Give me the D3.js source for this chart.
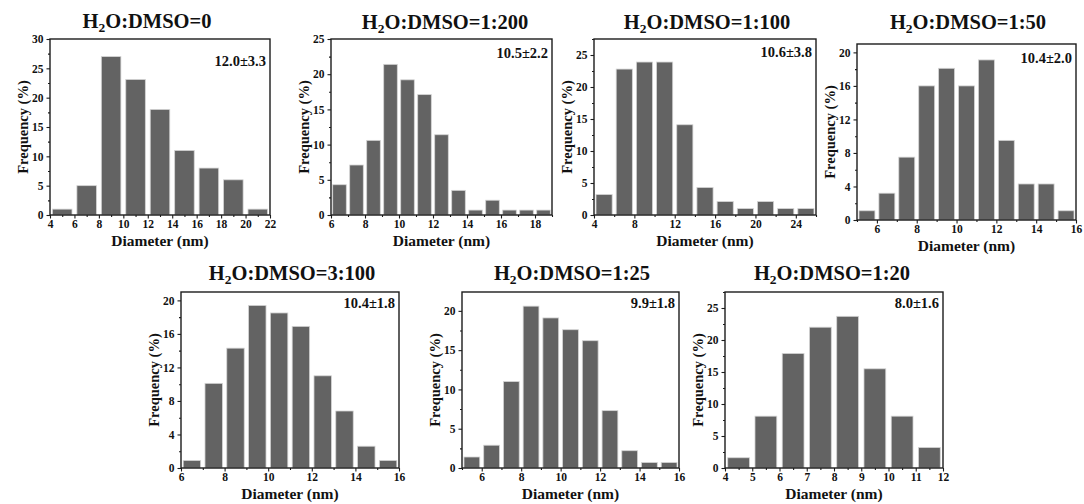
<!DOCTYPE html>
<html>
<head>
<meta charset="utf-8">
<script src="https://cdn.jsdelivr.net/npm/d3@7"></script>
<style>
  html, body { margin: 0; padding: 0; background: #fff; }
  svg text { font-family: "Liberation Serif", "Times New Roman", serif; font-weight: bold; fill: #111; }
</style>
</head>
<body>
<svg id="chart" width="1084" height="504"></svg>
<script>
// Ratio labels (the part after "H2O:DMSO=") and mean ± SD for each sample
const ratios = ["0", "1:200", "1:100", "1:50", "3:100", "1:25", "1:20"];
const stats = ["12.0±3.3", "10.5±2.2", "10.6±3.8", "10.4±2.0", "10.4±1.8", "9.9±1.8", "8.0±1.6"];

// Histogram bins: first bin start and bin width (nm)
const binStart = [4, 6, 4, 5, 6, 5, 4];
const binWidth = [2, 1, 2, 1, 1, 1, 1];

// Frequencies (%) per bin
const freqR0    = [1.0, 5.0, 27.0, 23.1, 18.0, 11.0, 8.0, 6.0, 1.0];
const freqR1200 = [4.3, 7.1, 10.6, 21.4, 19.2, 17.1, 11.4, 3.5, 0.7, 2.1, 0.7, 0.7, 0.7];
const freqR1100 = [3.2, 22.8, 23.9, 23.9, 14.1, 4.3, 2.1, 1.0, 2.1, 1.0, 1.0];
const freqR150  = [1.1, 3.2, 7.5, 16.0, 18.1, 16.0, 19.1, 9.5, 4.3, 4.3, 1.1];
const freqR3100 = [0.9, 10.1, 14.3, 19.4, 18.5, 16.9, 11.0, 6.8, 2.6, 0.9];
const freqR125  = [1.4, 2.9, 11.0, 20.6, 19.1, 17.6, 16.2, 7.3, 2.2, 0.7, 0.7];
const freqR120  = [1.6, 8.1, 17.9, 22.0, 23.7, 15.5, 8.1, 3.2];
const freqs = [freqR0, freqR1200, freqR1100, freqR150, freqR3100, freqR125, freqR120];

// Axis ranges and tick values
const xDomains = [[4, 22], [6, 19], [4, 26], [5, 16], [6, 16], [5, 16], [4, 12]];
const xTicks = [
  [4, 6, 8, 10, 12, 14, 16, 18, 20, 22],
  [6, 8, 10, 12, 14, 16, 18],
  [4, 8, 12, 16, 20, 24],
  [6, 8, 10, 12, 14, 16],
  [6, 8, 10, 12, 14, 16],
  [6, 8, 10, 12, 14, 16],
  [4, 5, 6, 7, 8, 9, 10, 11, 12]
];
const xMinorStep = [1, 1, 2, 1, 1, 1, 0.5];
const yDomains = [[0, 30], [0, 25], [0, 27.5], [0, 21], [0, 21], [0, 22.4], [0, 27.5]];
const yTicks = [
  [0, 5, 10, 15, 20, 25, 30],
  [0, 5, 10, 15, 20, 25],
  [0, 5, 10, 15, 20, 25],
  [0, 4, 8, 12, 16, 20],
  [0, 4, 8, 12, 16, 20],
  [0, 5, 10, 15, 20],
  [0, 5, 10, 15, 20, 25]
];
const yMinorStep = [2.5, 2.5, 2.5, 2, 2, 2.5, 2.5];

// Page layout: plot frame [left, top, right, bottom], title centre/baseline, stat offset
const frames = [
  [50, 39, 270, 215], [331, 39, 552, 215], [594, 39, 816, 215], [857, 44, 1076, 220],
  [181, 292, 399, 468], [462, 292, 679, 468], [725, 292, 943, 468]
];
const titlePos = [[147, 28], [445, 29], [707, 29], [968, 29], [292, 280], [572, 280], [832, 280]];
const statDrop = [27, 19, 18, 19, 16, 16, 16];

const svg = d3.select("#chart");
const BAR = "#636363", FRAME = "#1c1c1c";

function range(a, b, step) {
  const out = [];
  for (let v = a; v <= b + 1e-9; v += step) out.push(+v.toFixed(4));
  return out;
}

freqs.forEach((vals, i) => {
  const [l, t, r, b] = frames[i];
  const x = d3.scaleLinear().domain(xDomains[i]).range([l, r]);
  const y = d3.scaleLinear().domain(yDomains[i]).range([b, t]);
  const g = svg.append("g");

  // bars
  const w = binWidth[i];
  g.selectAll("rect.bar").data(vals).join("rect")
    .attr("class", "bar")
    .attr("x", (d, k) => x(binStart[i] + k * w + w * 0.1))
    .attr("width", (d, k) => x(binStart[i] + (k + 1) * w - w * 0.1) - x(binStart[i] + k * w + w * 0.1))
    .attr("y", d => y(d))
    .attr("height", d => y(0) - y(d))
    .attr("fill", BAR)
    .attr("stroke", "#d4d4d4")
    .attr("stroke-width", 0.8);

  // minor ticks
  const xMinor = range(xDomains[i][0], xDomains[i][1], xMinorStep[i]).filter(v => !xTicks[i].includes(v));
  const yMinor = range(yDomains[i][0], yDomains[i][1], yMinorStep[i]).filter(v => !yTicks[i].includes(v));

  const xAxis = g.append("g").attr("transform", `translate(0,${b})`)
    .call(d3.axisBottom(x).tickValues(xTicks[i]).tickSize(3.5).tickPadding(1.5).tickFormat(d3.format("d")));
  const xAxisMinor = g.append("g").attr("transform", `translate(0,${b})`)
    .call(d3.axisBottom(x).tickValues(xMinor).tickSize(2).tickFormat(""));
  const yAxis = g.append("g").attr("transform", `translate(${l},0)`)
    .call(d3.axisLeft(y).tickValues(yTicks[i]).tickSize(3.5).tickPadding(3).tickFormat(d3.format("d")));
  const yAxisMinor = g.append("g").attr("transform", `translate(${l},0)`)
    .call(d3.axisLeft(y).tickValues(yMinor).tickSize(2).tickFormat(""));

  [xAxis, xAxisMinor, yAxis, yAxisMinor].forEach(a => {
    a.select(".domain").remove();
    a.selectAll(".tick line").attr("stroke", FRAME).attr("stroke-width", 1.1);
    a.selectAll(".tick text").attr("font-size", 11.5).attr("fill", "#111")
      .style("font-family", '"Liberation Serif", serif').style("font-weight", "bold");
  });

  // plot frame
  g.append("rect")
    .attr("x", l).attr("y", t).attr("width", r - l).attr("height", b - t)
    .attr("fill", "none").attr("stroke", FRAME).attr("stroke-width", 1.4);

  // title: H2O:DMSO=ratio
  const title = g.append("text")
    .attr("x", titlePos[i][0]).attr("y", titlePos[i][1])
    .attr("text-anchor", "middle").attr("font-size", 20.5);
  title.append("tspan").text("H");
  title.append("tspan").text("2").attr("font-size", 13.5).attr("dy", 4);
  title.append("tspan").text("O:DMSO=" + ratios[i]).attr("dy", -4);

  // mean ± SD
  g.append("text")
    .attr("x", r - 4).attr("y", t + statDrop[i])
    .attr("text-anchor", "end").attr("font-size", 14.5)
    .text(stats[i]);

  // axis titles
  g.append("text")
    .attr("x", (l + r) / 2).attr("y", b + 31)
    .attr("text-anchor", "middle").attr("font-size", 15.5)
    .text("Diameter (nm)");
  g.append("text")
    .attr("transform", `translate(${l - 22},${(t + b) / 2}) rotate(-90)`)
    .attr("text-anchor", "middle").attr("font-size", 14.5)
    .text("Frequency (%)");
});
</script>
</body>
</html>
